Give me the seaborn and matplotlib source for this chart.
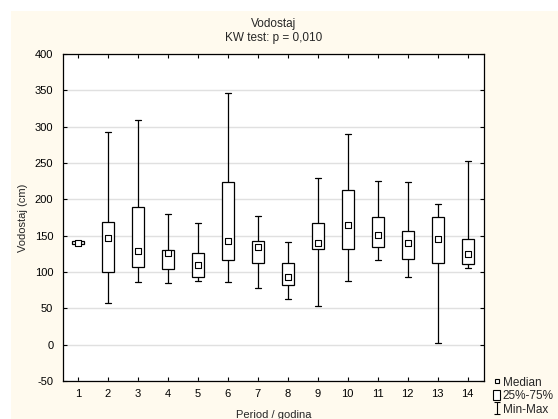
import numpy as np
import pandas as pd
import matplotlib
matplotlib.use("Agg")
import matplotlib.pyplot as plt
from matplotlib.lines import Line2D
from matplotlib.patches import Patch, Rectangle
from matplotlib.path import Path
import seaborn as sns

# box plot summary per period
periods = list(range(1, 15))
mins = [138, 57, 86, 85, 87, 86, 78, 63, 53, 87, 116, 93, 2, 105]
q1s = [138, 100, 107, 104, 93, 116, 112, 82, 132, 131, 135, 118, 113, 111]
medians = [140, 147, 129, 126, 110, 142, 135, 93, 140, 164, 151, 140, 146, 125]
q3s = [142, 169, 190, 130, 126, 224, 143, 113, 168, 213, 176, 157, 175, 145]
maxs = [142, 292, 309, 180, 168, 347, 177, 141, 230, 290, 225, 224, 194, 253]

title = "Vodostaj\nKW test: p = 0,010"
xlabel = "Period / godina"
ylabel = "Vodostaj (cm)"
yticks = list(range(-50, 401, 50))

sns.set_style("ticks")
plt.rcParams["font.family"] = ["Liberation Sans", "DejaVu Sans"]
plt.rcParams["axes.unicode_minus"] = False

# five points per period -> quantiles hit min/q1/median/q3/max exactly
rows = []
for i, p in enumerate(periods):
    for v in (mins[i], q1s[i], medians[i], q3s[i], maxs[i]):
        rows.append({"period": p, "value": v})
df = pd.DataFrame(rows)
df_med = pd.DataFrame({"period": periods, "median": medians})

cream = "#fffaee"
fig = plt.figure(figsize=(5.58, 4.19), dpi=100, facecolor="white")
# cream panel with small white strip top/left like the original export
fig.patches.append(Rectangle((11 / 558, 0), 1, 1 - 11 / 419, transform=fig.transFigure,
                             facecolor=cream, edgecolor="none", zorder=-10))
ax = fig.add_axes([63 / 558, 1 - 381 / 419, (484 - 63) / 558, (381 - 54) / 419])
ax.set_facecolor("white")

sns.boxplot(data=df, x="period", y="value", native_scale=True, whis=(0, 100),
            width=0.4, color="white", linecolor="black", linewidth=0.9,
            fliersize=0, medianprops={"linewidth": 0}, ax=ax, zorder=3)
sns.scatterplot(data=df_med, x="period", y="median", marker="s", s=20,
                color="white", edgecolor="black", linewidth=0.8, ax=ax, zorder=5)

ax.set_xlim(0.5, 14.55)
ax.set_ylim(-50, 400)
ax.set_yticks(yticks)
ax.set_xticks(periods)
ax.set_xticklabels([str(p) for p in periods])
ax.yaxis.grid(True, color="#e0e0e0", linewidth=1)
ax.set_axisbelow(True)
ax.tick_params(direction="in", length=3, width=0.8, labelsize=8, top=True, right=True,
               colors="black")
ax.tick_params(axis="y", pad=7)
ax.tick_params(axis="x", pad=6)
for s in ax.spines.values():
    s.set_color("black")
    s.set_linewidth(0.9)

ax.set_title(title, fontsize=8.5, pad=9, linespacing=1.25)
ax.set_xlabel(xlabel, fontsize=8, labelpad=8)
ax.set_ylabel(ylabel, fontsize=8, labelpad=5)

# legend like Statistica: median square, box, min-max whisker
whisk = Path([(-0.5, -1), (0.5, -1), (0, -1), (0, 1), (-0.5, 1), (0.5, 1)],
             [Path.MOVETO, Path.LINETO, Path.MOVETO, Path.LINETO, Path.MOVETO, Path.LINETO])
handles = [
    Line2D([], [], marker="s", linestyle="none", markersize=3.5, markerfacecolor="white",
           markeredgecolor="black", markeredgewidth=0.8),
    Patch(facecolor="white", edgecolor="black", linewidth=0.8),
    Line2D([], [], marker=whisk, linestyle="none", markersize=9, markeredgecolor="black",
           markeredgewidth=0.8),
]
fig.legend(handles, ["Median", "25%-75%", "Min-Max"], loc="lower left",
           bbox_to_anchor=(485 / 558, -0.012), frameon=False, fontsize=8.5,
           handlelength=0.6, handleheight=1.0, handletextpad=0.2, labelspacing=0.1,
           borderpad=0.2)

fig.savefig("out.png", dpi=100, facecolor=fig.get_facecolor())
